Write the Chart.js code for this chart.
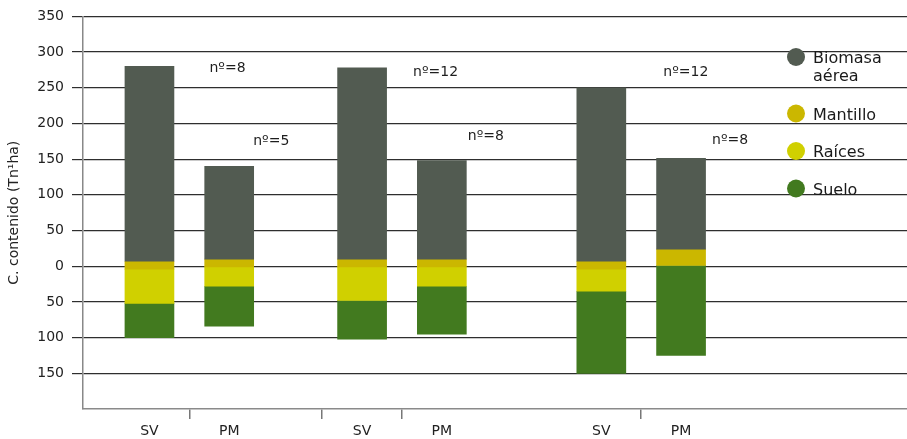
<!DOCTYPE html>
<html><head><meta charset="utf-8">
<script src="https://cdn.jsdelivr.net/npm/chart.js@4"></script>
<style>html,body{margin:0;padding:0;background:#fff}canvas{display:block}</style>
</head><body>
<canvas id="c" width="907" height="439"></canvas>
<script>
// ---- data ----
const categories = ['SV','PM','SV','PM','SV','PM'];
const seriesNames = ['Biomasa aérea','Mantillo','Raíces','Suelo'];
const biomasa  = [[7,280],[10,140],[10,278],[10,148],[7,250],[24,151]];
const mantillo = [[-4,7],[-1,10],[-1,10],[-1,10],[-4,7],[1,24]];
const raices   = [[-52,-4],[-28,-1],[-48,-1],[-28,-1],[-35,-4],null];
const suelo    = [[-100,-52],[-84,-28],[-102,-48],[-95,-28],[-150,-35],[-125,1]];
const sampleLabels = ['nº=8','nº=5','nº=12','nº=8','nº=12','nº=8'];
const yTickValues = [-150,-100,-50,0,50,100,150,200,250,300,350];
const yTitle = 'C. contenido (Tn¹ha)';

// ---- layout / style ----
const FONT = 'DejaVu Sans';
const COLORS = ['#525b51','#cbb700','#d0d000','#427a1f'];
const SLOT_COUNT = 31;
const SLOT_OF = [2,5,10,13,19,22];
const TICK_MARK_AT = [4,9,12,21];
const NOTE_LAYOUT = [{dx:60,y:277},{dx:24,y:175},{dx:51,y:271},{dx:26,y:182},{dx:62,y:272},{dx:31,y:177}];

const labels = Array(SLOT_COUNT).fill('');
SLOT_OF.forEach((s,i)=>{ labels[s] = categories[i]; });
function spread(arr){
  const d = Array(SLOT_COUNT).fill(null);
  SLOT_OF.forEach((s,i)=>{ d[s] = arr[i]; });
  return d;
}
const allSeries = [biomasa, mantillo, raices, suelo];
const datasets = allSeries.map((arr,k)=>({
  label: seriesNames[k],
  data: spread(arr),
  backgroundColor: COLORS[k],
  borderWidth: 0,
  grouped: false,
  barThickness: 49
}));

const notesPlugin = {
  id:'notes',
  afterDatasetsDraw(chart){
    const ctx = chart.ctx, xs = chart.scales.x, ys = chart.scales.y;
    ctx.save();
    ctx.font = '14px "' + FONT + '"';
    ctx.fillStyle = '#1e1e1e';
    ctx.textAlign = 'left';
    ctx.textBaseline = 'middle';
    sampleLabels.forEach((t,i)=>{
      const x = xs.getPixelForValue(SLOT_OF[i]) + NOTE_LAYOUT[i].dx;
      const y = ys.getPixelForValue(NOTE_LAYOUT[i].y);
      ctx.fillText(t, x, y);
    });
    ctx.restore();
  }
};

const legendPlugin = {
  id:'sideLegend',
  afterDraw(chart){
    const ctx = chart.ctx;
    ctx.save();
    ctx.font = '16px "' + FONT + '"';
    ctx.textAlign = 'left';
    ctx.textBaseline = 'middle';
    let y = 57;
    const cx = chart.chartArea.right - 111;
    chart.data.datasets.forEach(ds=>{
      ctx.fillStyle = ds.backgroundColor;
      ctx.beginPath(); ctx.arc(cx, y, 9, 0, Math.PI*2); ctx.fill();
      const words = ds.label.split(' ');
      const lines = [];
      let cur = '';
      words.forEach(w=>{
        const test = cur ? cur + ' ' + w : w;
        if (cur && ctx.measureText(test).width > 80) { lines.push(cur); cur = w; } else cur = test;
      });
      lines.push(cur);
      ctx.fillStyle = '#1a1a1a';
      lines.forEach((l,j)=> ctx.fillText(l, cx + 17, y + 2 + j*17.5));
      y += 37.5 + (lines.length-1)*19;
    });
    ctx.restore();
  }
};

new Chart(document.getElementById('c'), {
  type:'bar',
  data:{ labels, datasets },
  plugins:[notesPlugin, legendPlugin],
  options:{
    responsive:false, animation:false, devicePixelRatio:1,
    layout:{padding:{top:16,right:0,bottom:0,left:0}},
    plugins:{legend:{display:false}, tooltip:{enabled:false}},
    scales:{
      x:{
        type:'category', offset:true,
        grid:{offset:true, drawOnChartArea:false, drawTicks:true, tickLength:10, lineWidth:1.5,
              color: c => TICK_MARK_AT.includes(c.index) ? '#777' : 'rgba(0,0,0,0)'},
        border:{display:true, color:'#8a8a8a', width:1.5},
        ticks:{autoSkip:false, maxRotation:0, minRotation:0, padding:4, color:'#222', font:{family:FONT, size:14}},
        afterFit: s => { s.height = 30; }
      },
      y:{
        min:-200, max:350,
        afterBuildTicks: s => { s.ticks = [-200, ...yTickValues].map(v=>({value:v})); },
        grid:{lineWidth:1.2, tickLength:11,
              color: c => (c.tick && c.tick.value === -200) ? 'rgba(0,0,0,0)' : '#2e2e2e'},
        border:{display:true, color:'#888', width:1.5},
        ticks:{padding:8, color:'#222', font:{family:FONT, size:14},
               callback: v => v === -200 ? '' : String(Math.abs(v))},
        title:{display:true, text:yTitle, color:'#222', font:{family:FONT, size:14}, padding:{top:6,bottom:0}},
        afterFit: s => { s.width = 83; }
      }
    }
  }
});
</script>
</body></html>
